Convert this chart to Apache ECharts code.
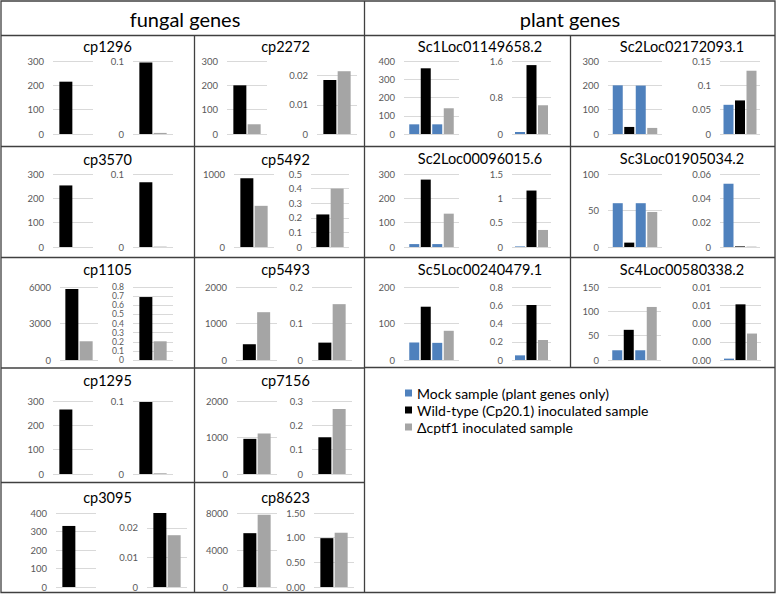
<!DOCTYPE html>
<html><head><meta charset="utf-8">
<script src="https://cdn.jsdelivr.net/npm/echarts@6/dist/echarts.min.js"></script>
<style>html,body{margin:0;padding:0;background:#fff}#c{width:778px;height:595px}</style>
</head><body><div id="c"></div>
<script>
// ---------------- DATA ----------------
const seriesNames = ['Mock sample (plant genes only)', 'Wild-type (Cp20.1) inoculated sample', 'Δcptf1 inoculated sample'];
const sectionTitles = ['fungal genes', 'plant genes'];

const fungalGenes = ['cp1296', 'cp2272', 'cp3570', 'cp5492', 'cp1105', 'cp5493', 'cp1295', 'cp7156', 'cp3095', 'cp8623'];
const fungalWTAbs    = [215, 200, 253, 941, 5830, 432, 265, 963, 330, 5820];
const fungalDeltaAbs = [0, 40, 0, 564, 1540, 1310, 0, 1110, 0, 7820];
const fungalWTRel    = [0.098, 0.0185, 0.0886, 0.223, 0.69, 0.0476, 0.0986, 0.151, 0.0253, 0.99];
const fungalDeltaRel = [0.0015, 0.0215, 0.0005, 0.4, 0.205, 0.153, 0.001, 0.267, 0.0175, 1.10];
const fungalAbsMax = [300, 300, 300, 1000, 6000, 2000, 300, 2000, 400, 8000];
const fungalAbsStep = [100, 100, 100, 1000, 3000, 1000, 100, 1000, 100, 4000];
const fungalRelMax = [0.1, 0.025, 0.1, 0.5, 0.8, 0.2, 0.1, 0.3, 0.025, 1.5];
const fungalRelStep = [0.1, 0.01, 0.1, 0.1, 0.1, 0.1, 0.1, 0.1, 0.01, 0.5];
const fungalRelDecimals = [null, null, null, null, null, null, null, null, null, 2];

const plantGenes = ['Sc1Loc01149658.2', 'Sc2Loc02172093.1', 'Sc2Loc00096015.6', 'Sc3Loc01905034.2', 'Sc5Loc00240479.1', 'Sc4Loc00580338.2'];
// absolute: mock (WT batch), wild-type, mock (Δ batch), Δcptf1
const plantMockAbs1 = [53, 200, 12, 60, 48, 20];
const plantWTAbs    = [360, 29, 277, 6, 146, 62];
const plantMockAbs2 = [53, 199, 12, 60, 47, 20];
const plantDeltaAbs = [141, 25, 137, 48, 80, 109];
// relative: mock, wild-type, Δcptf1
const plantMockRel  = [0.044, 0.06, 0.012, 0.052, 0.051, 0.00015];
const plantWTRel    = [1.51, 0.069, 1.16, 0.0005, 0.603, 0.0061];
const plantDeltaRel = [0.63, 0.13, 0.35, 0.0003, 0.219, 0.0029];
const plantAbsMax = [400, 300, 300, 100, 200, 150];
const plantAbsStep = [100, 100, 100, 50, 100, 50];
const plantRelMax = [1.6, 0.15, 1.5, 0.06, 0.8, 0.008];
const plantRelStep = [0.8, 0.05, 0.5, 0.02, 0.2, 0.002];
const plantRelDecimals = [null, null, null, null, null, 2];

// ---------------- LAYOUT / STYLE ----------------
const FONT = 'Lato, "Open Sans", "Noto Sans", sans-serif';
const colors = ['#4f81bd', '#000000', '#a5a5a5'];
const lineColor = '#404040';
const rowPlotTop = [61, 174, 287, 401, 513];
const rowPlotBottom = [134, 247, 360, 474, 587];
const fungalTitleY = [46, 159, 269.5, 380, 497];
const plantTitleY = [46, 158, 269.5];
const fungalTitleX = [107.5, 285.5];
const plantTitleX = [480, 682];
const fungalGridX = [
  [[53, 93], [133, 173]], [[227, 267], [317, 357]],
  [[53, 93], [133, 173]], [[234, 274], [311, 349]],
  [[60, 98], [133, 173]], [[236, 277], [312, 352]],
  [[53, 93], [133, 173]], [[237, 277], [312, 352]],
  [[56, 96], [147, 187]], [[237, 277], [314, 354]]
];
const plantGridX = [
  [[404, 459], [512, 551]], [[608, 662], [720, 760]],
  [[404, 459], [512, 551]], [[608, 662], [720, 760]],
  [[404, 459], [512, 551]], [[608, 661], [720, 761]]
];

const grids = [], xAxes = [], yAxes = [], series = [], graphic = [];

function fmt(v, d) { return d == null ? String(+v.toFixed(6)) : v.toFixed(d); }

function addChart(xr, top, bottom, max, step, decimals, bars, barWidth, barGap) {
  const i = grids.length;
  grids.push({ left: xr[0], top: top, width: xr[1] - xr[0], height: bottom - top });
  xAxes.push({ type: 'category', gridIndex: i, data: [''], show: false });
  const hideTop = Math.abs(max / step - Math.round(max / step)) > 1e-6;
  const tickPx = (bottom - top) * step / max;
  const fs = tickPx < 11 ? 8.6 : 9.5;
  const yl = {
    margin: 9, color: '#595959', fontSize: fs, lineHeight: fs, fontFamily: FONT,
    formatter: v => fmt(v, decimals)
  };
  if (hideTop) yl.showMaxLabel = false;
  yAxes.push({
    type: 'value', gridIndex: i, min: 0, max: max, interval: step,
    axisLine: { show: false }, axisTick: { show: false },
    axisLabel: yl,
    splitLine: { show: true, showMaxLine: !hideTop, lineStyle: { color: '#d9d9d9', width: 1 } }
  });
  bars.forEach(b => {
    series.push({
      type: 'bar', name: seriesNames[b[0]], xAxisIndex: i, yAxisIndex: i,
      data: [b[1]], barWidth: barWidth, barGap: barGap,
      itemStyle: { color: colors[b[0]] }, silent: true
    });
  });
}

function text(str, x, y, size) {
  graphic.push({
    type: 'text', x: x, y: y, silent: true,
    style: { text: str, fontSize: size, fontFamily: FONT, fill: '#000',
      align: 'center', verticalAlign: 'middle', textAlign: 'center', textVerticalAlign: 'middle' }
  });
}
function line(x1, y1, x2, y2) {
  graphic.push({ type: 'line', silent: true, shape: { x1, y1, x2, y2 }, style: { stroke: lineColor, lineWidth: 1.3 } });
}

// fungal panels
fungalGenes.forEach((g, k) => {
  const r = Math.floor(k / 2), c = k % 2;
  text(g, fungalTitleX[c], fungalTitleY[r], 14.5);
  addChart(fungalGridX[k][0], rowPlotTop[r], rowPlotBottom[r], fungalAbsMax[k], fungalAbsStep[k], null,
    [[1, fungalWTAbs[k]], [2, fungalDeltaAbs[k]]], 13, '10%');
  addChart(fungalGridX[k][1], rowPlotTop[r], rowPlotBottom[r], fungalRelMax[k], fungalRelStep[k], fungalRelDecimals[k],
    [[1, fungalWTRel[k]], [2, fungalDeltaRel[k]]], 13, '10%');
});
// plant panels
plantGenes.forEach((g, k) => {
  const r = Math.floor(k / 2), c = k % 2;
  text(g, plantTitleX[c], plantTitleY[r], 14.5);
  addChart(plantGridX[k][0], rowPlotTop[r], rowPlotBottom[r], plantAbsMax[k], plantAbsStep[k], null,
    [[0, plantMockAbs1[k]], [1, plantWTAbs[k]], [0, plantMockAbs2[k]], [2, plantDeltaAbs[k]]], 10, '15%');
  addChart(plantGridX[k][1], rowPlotTop[r], rowPlotBottom[r], plantRelMax[k], plantRelStep[k], plantRelDecimals[k],
    [[0, plantMockRel[k]], [1, plantWTRel[k]], [2, plantDeltaRel[k]]], 10, '15%');
});

// section headers
text(sectionTitles[0], 185, 18.5, 20);
text(sectionTitles[1], 570, 18.5, 20);

// table lines
graphic.push({ type: 'rect', silent: true, shape: { x: 1, y: 1, width: 774, height: 591.5 }, style: { fill: null, stroke: lineColor, lineWidth: 1.3 } });
line(1, 35.5, 775, 35.5);
line(364.5, 1, 364.5, 592.5);
line(194.5, 35.5, 194.5, 592.5);
[146.5, 257.5, 368, 482.5].forEach(y => line(1, y, 364.5, y));
[146.5, 257.5, 367.5].forEach(y => line(364.5, y, 775, y));
line(570.5, 35.5, 570.5, 367.5);

const chart = echarts.init(document.getElementById('c'), null, { renderer: 'svg' });
chart.setOption({
  animation: false,
  backgroundColor: '#fff',
  grid: grids, xAxis: xAxes, yAxis: yAxes, series: series,
  legend: {
    data: seriesNames, orient: 'vertical', left: 405, top: 384.5, padding: 0,
    itemWidth: 7, itemHeight: 7, itemGap: 0, icon: 'rect', selectedMode: false,
    textStyle: { fontSize: 14, fontFamily: FONT, color: '#000', lineHeight: 17 }
  },
  graphic: graphic
});
</script>
</body></html>
